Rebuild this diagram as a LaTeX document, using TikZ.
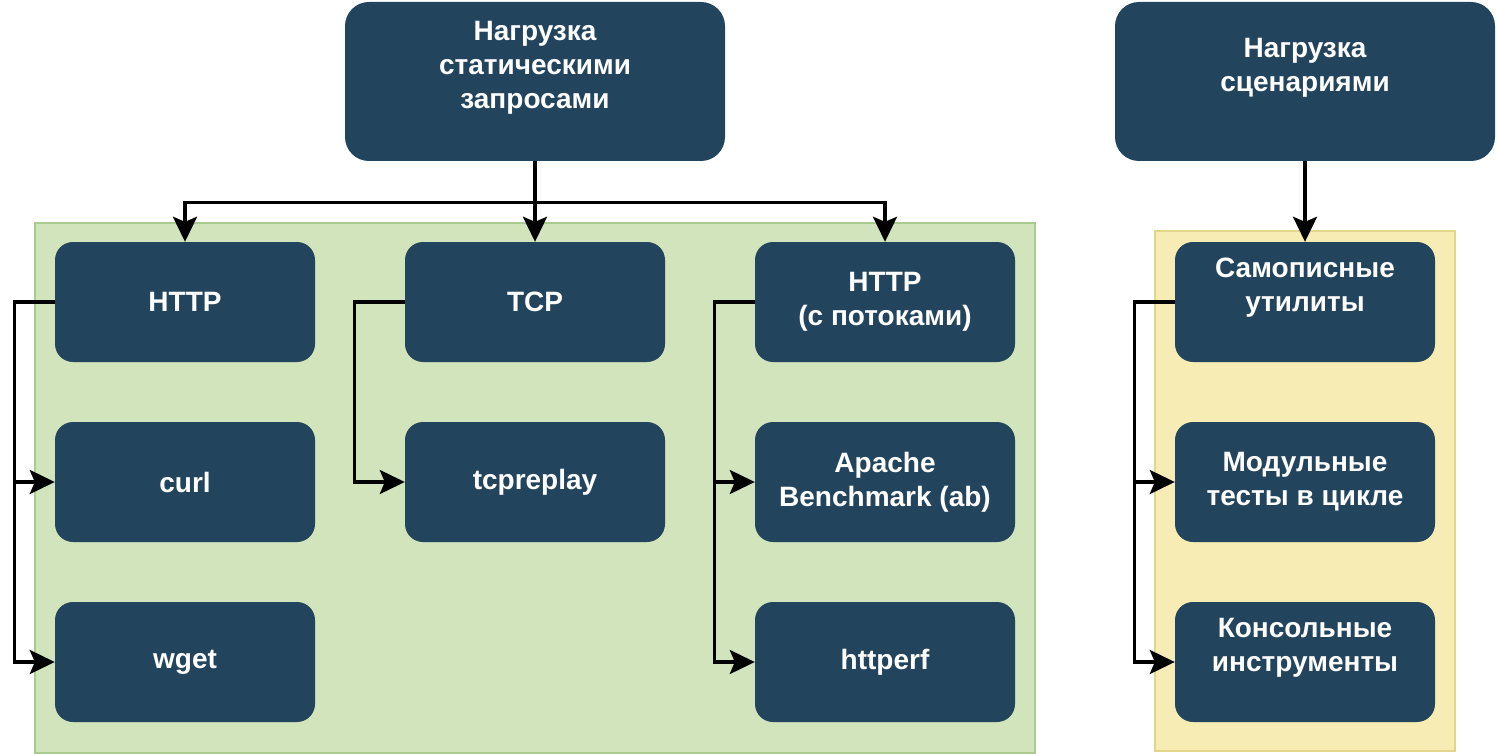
\documentclass[tikz,border=0pt]{standalone}
\usepackage{fontspec}
\setmainfont{Liberation Sans}
\usetikzlibrary{arrows.meta}

\definecolor{boxblue}{HTML}{23445D}
\definecolor{grnfill}{HTML}{D1E4BC}
\definecolor{grnline}{HTML}{A9CB8E}
\definecolor{ylwfill}{HTML}{F7EDB4}
\definecolor{ylwline}{HTML}{E2D58C}

\begin{document}
\begin{tikzpicture}[x=1pt,y=-1pt]
\begin{scope}
	\tikzstyle{every node}=[align=center, font=\fontsize{28}{34}\selectfont\bfseries, text=white]
	\tikzstyle{tool}=[fill=boxblue, rounded corners=18pt, minimum width=260pt, minimum height=120pt, inner sep=0pt]
	\tikzstyle{load}=[fill=boxblue, rounded corners=24pt, minimum width=380pt, minimum height=159pt, inner sep=0pt]
	\tikzstyle{conn}=[line width=3.2pt, -{Stealth[length=25pt,width=24pt,inset=5pt]}]
	\useasboundingbox (0,0) rectangle (1498,754);
	\draw[fill=grnfill, draw=grnline, line width=1.5pt] (35,223) rectangle (1035,753);
	\draw[fill=ylwfill, draw=ylwline, line width=1.5pt] (1155,231) rectangle (1455,751);
	\node[load] (stat) at (535,81.5) {Нагрузка\\статическими\\запросами\\\mbox{}};
	\node[load] (scen) at (1305,81.5) {Нагрузка\\сценариями\\\mbox{}};
	\node[tool] (http) at (185,302) {HTTP};
	\node[tool] (curl) at (185,482) {curl};
	\node[tool] (wget) at (185,662) {wget};
	\node[tool] (tcp) at (535,302) {TCP};
	\node[tool] (tcprep) at (535,482) {tcpreplay};
	\node[tool] (httpt) at (885,302) {HTTP\\(с потоками)};
	\node[tool] (ab) at (885,482) {Apache\\Benchmark (ab)};
	\node[tool] (perf) at (885,662) {httperf};
	\node[tool] (self) at (1305,302) {Самописные\\утилиты\\\mbox{}};
	\node[tool] (unit) at (1305,482) {Модульные\\тесты в цикле};
	\node[tool] (cons) at (1305,662) {Консольные\\инструменты\\\mbox{}};
	
	
	\draw [conn] (stat.south) -- ++(0,41) -| (http.north);
	\draw [conn] (stat.south) -- (tcp.north);
	\draw [conn] (stat.south) -- ++(0,41) -| (httpt.north);
	\draw [conn] (scen.south) -- (self.north);
	\draw [conn] (http.west) -- ++(-40,0) |- (curl.west);
	\draw [conn] (http.west) -- ++(-40,0) |- (wget.west);
	\draw [conn] (tcp.west) -- ++(-50,0) |- (tcprep.west);
	\draw [conn] (httpt.west) -- ++(-40,0) |- (ab.west);
	\draw [conn] (httpt.west) -- ++(-40,0) |- (perf.west);
	\draw [conn] (self.west) -- ++(-40,0) |- (unit.west);
	\draw [conn] (self.west) -- ++(-40,0) |- (cons.west);
	\end{scope}
\end{tikzpicture}
\end{document}
